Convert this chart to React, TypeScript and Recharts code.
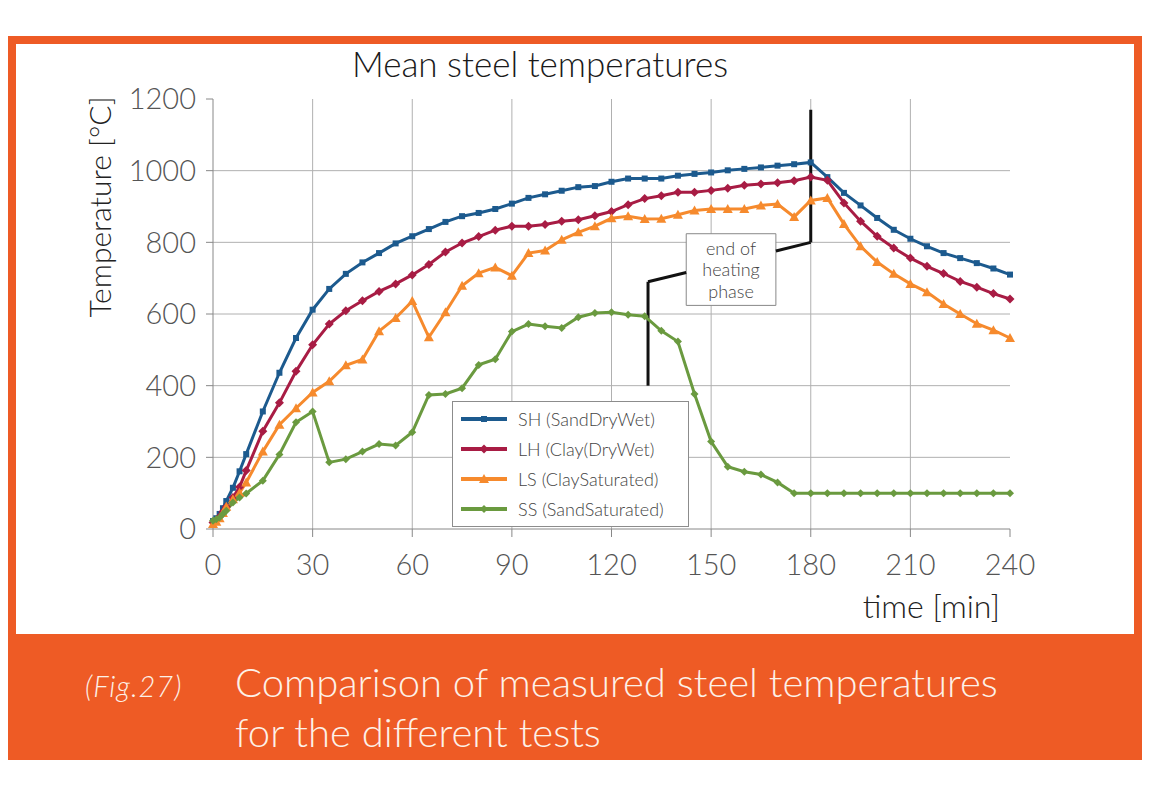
import React from 'react'
import { LineChart, Line, XAxis, YAxis, CartesianGrid, Legend, ReferenceLine, ReferenceArea } from 'recharts'

// time in minutes
const times = [0, 1, 2, 3, 4, 6, 8, 10, 15, 20, 25, 30, 35, 40, 45, 50, 55, 60, 65, 70, 75, 80, 85, 90, 95, 100, 105, 110, 115, 120, 125, 130, 135, 140, 145, 150, 155, 160, 165, 170, 175, 180, 185, 190, 195, 200, 205, 210, 215, 220, 225, 230, 235, 240]

const sandDryWet = [22, 30, 42, 58, 78, 115, 161, 209, 328, 436, 533, 612, 670, 712, 744, 770, 797, 817, 837, 857, 873, 882, 893, 908, 924, 934, 944, 954, 957, 969, 978, 978, 978, 986, 991, 995, 1001, 1005, 1009, 1014, 1018, 1023, 982, 938, 903, 868, 835, 810, 789, 770, 756, 742, 727, 710]
const clayDryWet = [18, 24, 34, 48, 62, 88, 117, 163, 273, 352, 440, 514, 572, 609, 637, 663, 684, 709, 738, 773, 798, 816, 834, 845, 845, 850, 859, 863, 874, 886, 905, 922, 930, 940, 940, 945, 951, 959, 963, 966, 972, 982, 973, 910, 859, 817, 784, 756, 733, 713, 691, 675, 657, 642]
const claySaturated = [14, 20, 30, 45, 62, 83, 101, 130, 216, 291, 337, 381, 412, 457, 473, 552, 589, 636, 535, 605, 679, 714, 730, 707, 770, 777, 807, 828, 845, 867, 873, 865, 866, 877, 889, 893, 893, 893, 903, 907, 871, 917, 924, 851, 789, 745, 712, 684, 661, 628, 600, 573, 555, 533]
const sandSaturated = [23, 27, 32, 42, 51, 74, 88, 99, 135, 208, 298, 328, 186, 195, 216, 237, 233, 270, 374, 377, 393, 458, 474, 551, 572, 566, 561, 591, 603, 605, 598, 594, 553, 523, 377, 244, 174, 160, 152, 130, 100, 100, 100, 100, 100, 100, 100, 100, 100, 100, 100, 100, 100, 100]

const xTicks = [0, 30, 60, 90, 120, 150, 180, 210, 240]
const yTicks = [0, 200, 400, 600, 800, 1000, 1200]

const data = times.map((t, i) => ({
  t,
  SH: sandDryWet[i],
  LH: clayDryWet[i],
  LS: claySaturated[i],
  SS: sandSaturated[i],
}))

const FONT = 'Lato, "Open Sans", "DejaVu Sans", sans-serif'
const ORANGE = '#ee5b25'
const CREAM = '#fdf1e8'

const COLORS = {
  SH: '#1c5a8e',
  LH: '#a81c44',
  LS: '#f68a2d',
  SS: '#6a9a3f',
}

type Shape = 'square' | 'diamond' | 'triangle' | 'smallDiamond'

const marker = (shape: Shape, color: string, cx: number, cy: number, key?: any) => {
  if (shape === 'square') {
    return <rect key={key} x={cx - 3} y={cy - 3} width={6} height={6} fill={color} />
  }
  if (shape === 'triangle') {
    return <polygon key={key} points={`${cx},${cy - 5} ${cx + 5},${cy + 4} ${cx - 5},${cy + 4}`} fill={color} />
  }
  const r = shape === 'diamond' ? 4.5 : 4
  return <polygon key={key} points={`${cx},${cy - r} ${cx + r},${cy} ${cx},${cy + r} ${cx - r},${cy}`} fill={color} />
}

const dotFor = (shape: Shape, color: string) => (props: any) => {
  const { cx, cy, index } = props
  if (cx == null || cy == null) return <g key={index} />
  return marker(shape, color, cx, cy, index)
}

const SERIES: { key: 'SH' | 'LH' | 'LS' | 'SS'; name: string; shape: Shape }[] = [
  { key: 'SH', name: 'SH (SandDryWet)', shape: 'square' },
  { key: 'LH', name: 'LH (Clay(DryWet)', shape: 'diamond' },
  { key: 'LS', name: 'LS (ClaySaturated)', shape: 'triangle' },
  { key: 'SS', name: 'SS (SandSaturated)', shape: 'smallDiamond' },
]

const renderLegend = () => (
  <div
    style={{
      width: 237,
      height: 126,
      boxSizing: 'border-box',
      border: '1px solid #8c8c8c',
      background: '#fff',
      padding: '2px 0 0 8px',
      fontFamily: FONT,
      fontSize: 18,
      fontWeight: 300,
      color: '#444',
    }}
  >
    {SERIES.map((s) => (
      <div key={s.key} style={{ display: 'flex', alignItems: 'center', height: 30 }}>
        <svg width={46} height={12} style={{ marginRight: 11 }}>
          <line x1={0} y1={6} x2={46} y2={6} stroke={COLORS[s.key]} strokeWidth={4} />
          {marker(s.shape, COLORS[s.key], 23, 6)}
        </svg>
        <span style={{ whiteSpace: 'nowrap' }}>{s.name}</span>
      </div>
    ))}
  </div>
)

// text inside the "end of heating phase" box
const boxLabel = (props: any) => {
  const { viewBox } = props
  const cx = viewBox.x + viewBox.width / 2
  const top = viewBox.y
  return (
    <g fontFamily={FONT} fontSize={18} fontWeight={300} fill="#444" textAnchor="middle">
      <text x={cx} y={top + 21}>end of</text>
      <text x={cx} y={top + 42}>heating</text>
      <text x={cx} y={top + 64}>phase</text>
    </g>
  )
}

export default function App() {
  return (
    <div style={{ position: 'absolute', left: 0, top: 0, width: 1150, height: 800, background: '#fff', fontFamily: FONT }}>
      <div style={{ position: 'absolute', left: 8, top: 36, width: 1134, height: 724, background: ORANGE }} />
      <div style={{ position: 'absolute', left: 16, top: 44, width: 1118, height: 590, background: '#fff' }} />

      <div style={{ position: 'absolute', left: 0, top: 0 }}>
        <LineChart width={1150} height={800} data={data} margin={{ top: 99, right: 140, bottom: 211, left: 100 }}>
          <CartesianGrid
            stroke="#b0b0b0"
            strokeWidth={1}
            horizontalValues={[200, 400, 600, 800, 1000]}
            verticalValues={[30, 60, 90, 120, 150, 180, 210]}
          />
          <XAxis
            dataKey="t"
            type="number"
            domain={[0, 240]}
            ticks={xTicks}
            height={60}
            stroke="#888"
            tickSize={8}
            tickMargin={17}
            tick={{ fill: '#555', fontSize: 29, fontFamily: FONT, fontWeight: 300 }}
          />
          <YAxis
            type="number"
            domain={[0, 1200]}
            ticks={yTicks}
            width={113}
            stroke="#888"
            tickSize={7}
            tickMargin={10}
            tick={{ fill: '#555', fontSize: 29, fontFamily: FONT, fontWeight: 300 }}
          />

          <ReferenceLine segment={[{ x: 131, y: 400 }, { x: 131, y: 690 }]} stroke="#111" strokeWidth={3} />
          <ReferenceLine segment={[{ x: 131, y: 690 }, { x: 142.5, y: 716 }]} stroke="#111" strokeWidth={3} />
          <ReferenceLine segment={[{ x: 169.5, y: 776 }, { x: 180, y: 800 }]} stroke="#111" strokeWidth={3} />
          <ReferenceLine segment={[{ x: 180, y: 800 }, { x: 180, y: 1170 }]} stroke="#111" strokeWidth={3} />
          <ReferenceArea
            x1={142.5}
            x2={169.5}
            y1={624}
            y2={824}
            fill="#fff"
            fillOpacity={1}
            stroke="#888"
            strokeWidth={1}
            label={boxLabel}
          />

          {SERIES.map((s) => (
            <Line
              key={s.key}
              type="linear"
              dataKey={s.key}
              name={s.name}
              stroke={COLORS[s.key]}
              strokeWidth={3}
              dot={dotFor(s.shape, COLORS[s.key])}
              activeDot={false}
              isAnimationActive={false}
            />
          ))}

          <Legend
            layout="vertical"
            align="center"
            verticalAlign="middle"
            content={renderLegend}
            wrapperStyle={{ position: 'absolute', left: 452, top: 401, width: 'auto', height: 'auto' }}
          />
        </LineChart>
      </div>

      <svg width={1150} height={800} style={{ position: 'absolute', left: 0, top: 0, pointerEvents: 'none' }}>
        <text x={540} y={77} textAnchor="middle" fontFamily={FONT} fontWeight={300} fontSize={35} fill="#1a1a1a">
          Mean steel temperatures
        </text>
        <text
          x={99}
          y={207}
          textAnchor="middle"
          dominantBaseline="central"
          transform="rotate(-90, 99, 207)"
          fontFamily={FONT}
          fontWeight={300}
          fontSize={30}
          fill="#222"
        >
          Temperature [°C]
        </text>
        <text x={1000} y={618} textAnchor="end" fontFamily={FONT} fontWeight={300} fontSize={32} fill="#222">
          time [min]
        </text>
        <text x={85} y={697} fontFamily={FONT} fontStyle="italic" fontWeight={300} fontSize={29} letterSpacing={1} fill={CREAM}>
          (Fig.27)
        </text>
        <text x={235} y={697} fontFamily={FONT} fontWeight={300} fontSize={40} fill={CREAM}>
          Comparison of measured steel temperatures
        </text>
        <text x={235} y={747} fontFamily={FONT} fontWeight={300} fontSize={40} fill={CREAM}>
          for the different tests
        </text>
      </svg>
    </div>
  )
}
